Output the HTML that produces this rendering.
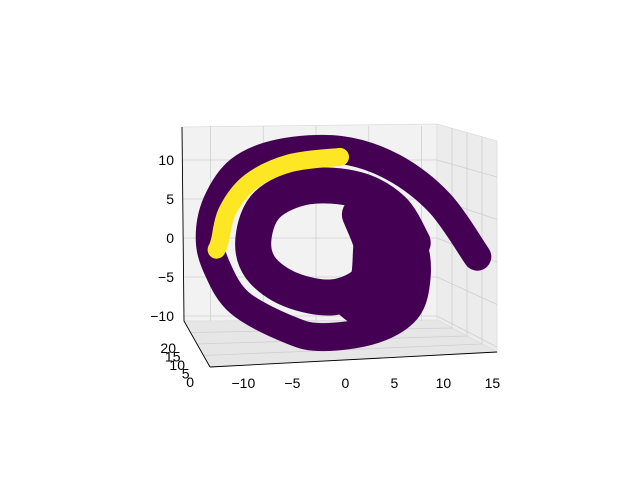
<!DOCTYPE html>
<html><head><meta charset="utf-8"><style>
html,body{margin:0;padding:0;background:#fff;}
svg{display:block;font-family:"Liberation Sans","DejaVu Sans",sans-serif;}
</style></head><body>
<svg id="chart" width="640" height="480" viewBox="0 0 640 480">
  <g>
    <polygon points="182,127 437,124 437,320 184,321" fill="#f2f2f2" stroke="#ddd" stroke-width="0.8"/>
    <polygon points="437,124 497,141 497,352 437,320" fill="#ececec" stroke="#ddd" stroke-width="0.8"/>
    <polygon points="184,321 437,320 497,352 210,367" fill="#e6e6e6" stroke="#ddd" stroke-width="0.8"/>
  </g>
  <g id="grid" stroke="#cfcfcf" stroke-width="0.8"></g>
  <g id="roll"></g>
  <g stroke="#000" stroke-width="0.9" fill="none">
    <polyline points="182,127 184,321 210,367"/>
    <line x1="210" y1="367" x2="497" y2="352"/>
  </g>
  <g id="ticks" font-size="14" fill="#000"></g>
</svg>
<script>
// data
const xTicks = [-10, -5, 0, 5, 10, 15];
const zTicks = [10, 5, 0, -5, -10];
const yTicks = [20, 15, 10, 5, 0];
// roll centreline (x, z), outer end -> inner
const rollX = [13.3,9.5,4.8,-0.5,-6.5,-10.6,-12.9,-13.6,-12.9,-10.6,-5.5,-2.2,2.8,6.2,7.2,6.8,4.8,1.2,-3.8,-7.8,-9.2,-8.5,-5.5,-1.2,2.2,2.8,1.5];
const rollZ = [-2.4,4.5,9.1,11.3,10.9,8.7,4.5,0.1,-3.7,-8.3,-11.8,-12.7,-11.8,-9.2,-5.0,-0.6,3.6,6.2,6.6,4.3,0.0,-3.8,-6.6,-7.6,-5.6,-1.6,3.0];
const yellowX = [-0.5,-5.5,-9.5,-11.8,-12.6,-12.9];
const yellowZ = [10.4,9.6,7.2,3.5,-0.5,-1.5];
// dense region on the right where layers overlap
const blobX = [2.8,6.2,7.5,7.3,5.5,2.0,1.2,0.8,-1.0];
const blobZ = [-11.8,-9.5,-5.4,-0.3,4.2,4.9,-0.3,-5.4,-8.5];

const NS = "http://www.w3.org/2000/svg";
const sx = x => 345 + 9.95 * x;
const sz = z => 238 - 7.8 * z;
const mk = (tag, attrs, parent) => { const e = document.createElementNS(NS, tag); for (const k in attrs) e.setAttribute(k, attrs[k]); parent.appendChild(e); return e; };

const grid = document.getElementById('grid');
xTicks.forEach(v => {
  const x = sx(v) - 35 + (v + 10) * 0.6;
  if (x > 183 && x < 437) mk('line', {x1: x, y1: 126, x2: x, y2: 321}, grid);
});
zTicks.forEach(v => {
  const y = sz(v);
  mk('line', {x1: 183, y1: y, x2: 437, y2: y}, grid);
  mk('line', {x1: 437, y1: y, x2: 497, y2: y + 17 + (10 - v) * 0.7}, grid);
});
[0.25, 0.5, 0.75].forEach(f => {
  mk('line', {x1: 437 + 60 * f, y1: 124 + 17 * f, x2: 437 + 60 * f, y2: 320 + 32 * f}, grid);
  mk('line', {x1: 184 + 26 * f, y1: 321 + 46 * f, x2: 437 + 60 * f, y2: 320 + 32 * f}, grid);
});

function smooth(xs, zs, closed) {
  const p = xs.map((x, i) => [sx(x), sz(zs[i])]);
  const n = p.length;
  const get = i => closed ? p[(i + n) % n] : p[Math.max(0, Math.min(n - 1, i))];
  let d = 'M' + p[0][0].toFixed(1) + ',' + p[0][1].toFixed(1);
  const segs = closed ? n : n - 1;
  for (let i = 0; i < segs; i++) {
    const p0 = get(i - 1), p1 = get(i), p2 = get(i + 1), p3 = get(i + 2);
    const c1 = [p1[0] + (p2[0] - p0[0]) / 6, p1[1] + (p2[1] - p0[1]) / 6];
    const c2 = [p2[0] - (p3[0] - p1[0]) / 6, p2[1] - (p3[1] - p1[1]) / 6];
    d += 'C' + c1.map(v => v.toFixed(1)).join(',') + ' ' + c2.map(v => v.toFixed(1)).join(',') + ' ' + p2[0].toFixed(1) + ',' + p2[1].toFixed(1);
  }
  return d + (closed ? 'Z' : '');
}
const roll = document.getElementById('roll');
const blob = mk('path', {d: smooth(blobX, blobZ, true), fill: '#440154', stroke: '#440154', 'stroke-width': 6, 'stroke-linejoin': 'round'}, roll);


const main = mk('path', {d: smooth(rollX, rollZ, false), fill: 'none', stroke: '#440154', 'stroke-width': 28, 'stroke-linecap': 'round', 'stroke-linejoin': 'round'}, roll);


const inner = mk('path', {d: smooth(rollX.slice(15), rollZ.slice(15), false), fill: 'none', stroke: '#440154', 'stroke-width': 36, 'stroke-linecap': 'round', 'stroke-linejoin': 'round'}, roll);


const yl = mk('path', {d: smooth(yellowX, yellowZ, false), fill: 'none', stroke: '#fde725', 'stroke-width': 18, 'stroke-linecap': 'round', 'stroke-linejoin': 'round'}, roll);



const ticks = document.getElementById('ticks');
xTicks.forEach(v => {
  const t = mk('text', {x: sx(v) + (v < 0 ? -4 : 0) - (v - 2.5) * 0.15, y: 388, 'text-anchor': 'middle'}, ticks);
  t.textContent = v < 0 ? '\u2212' + Math.abs(v) : String(v);
  
  
});
zTicks.forEach(v => {
  const t = mk('text', {x: 174, y: sz(v) + 5, 'text-anchor': 'end'}, ticks);
  t.textContent = v < 0 ? '\u2212' + Math.abs(v) : String(v);
  
  
});
yTicks.forEach((v, i) => {
  const t = mk('text', {x: 176 + i * 4.5, y: 353 + i * 8.5, 'text-anchor': 'end'}, ticks);
  t.textContent = String(v);
  
  
});
</script>
</body></html>
